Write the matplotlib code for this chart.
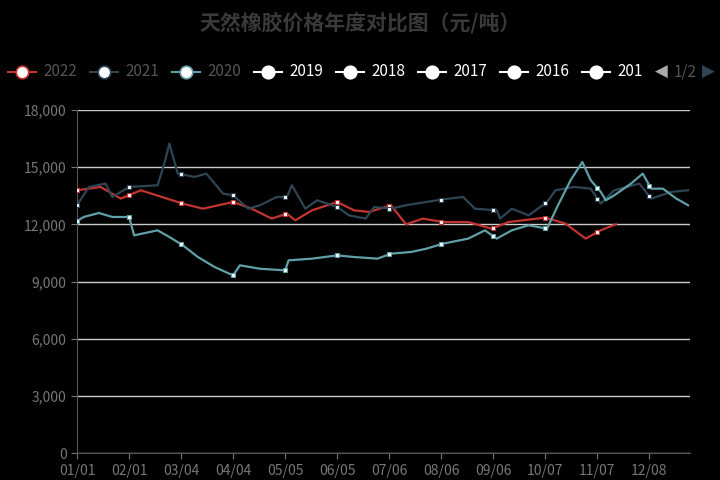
import matplotlib
matplotlib.use("Agg")
import matplotlib.pyplot as plt
from matplotlib.lines import Line2D
import numpy as np

plt.rcParams['font.family'] = ['Noto Sans CJK SC', 'DejaVu Sans']

tick_days = [0, 31, 62, 93, 124, 155, 186, 217, 248, 279, 310, 341]
tick_labels = ["01/01", "02/01", "03/04", "04/04", "05/05", "06/05", "07/06", "08/06", "09/06", "10/07", "11/07", "12/08"]

d2022 = [0, 14, 26, 38, 63, 75, 93, 104, 116, 125, 130, 140, 155, 165, 174, 187, 196, 206, 218, 233, 247, 257, 279, 291, 303, 312, 321]
v2022 = [13785, 13960, 13350, 13785, 13085, 12820, 13170, 12820, 12300, 12560, 12210, 12735, 13170, 12735, 12650, 13000, 12000, 12300, 12120, 12120, 11770, 12120, 12350, 12035, 11250, 11690, 12000]

d2021 = [0, 7, 17, 21, 31, 48, 52, 55, 60, 70, 77, 87, 93, 102, 109, 119, 125, 128, 136, 143, 155, 162, 172, 177, 187, 196, 208, 218, 230, 237, 250, 252, 259, 269, 280, 285, 296, 306, 312, 320, 335, 342, 354, 364]
v2021 = [13000, 13960, 14135, 13435, 13960, 14050, 15185, 16235, 14660, 14485, 14660, 13610, 13520, 12820, 13000, 13435, 13435, 14050, 12820, 13260, 12910, 12470, 12300, 12910, 12820, 13000, 13170, 13310, 13435, 12820, 12735, 12300, 12820, 12470, 13170, 13785, 13960, 13870, 13085, 13785, 14135, 13350, 13700, 13785]

d2020 = [0, 4, 13, 21, 31, 34, 48, 55, 63, 72, 82, 93, 97, 109, 124, 126, 140, 155, 165, 179, 187, 199, 208, 218, 233, 243, 250, 259, 269, 280, 286, 294, 301, 306, 312, 315, 320, 330, 337, 342, 349, 357, 364]
v2020 = [12175, 12385, 12595, 12385, 12385, 11420, 11685, 11335, 10900, 10285, 9760, 9320, 9850, 9670, 9585, 10110, 10200, 10370, 10285, 10200, 10460, 10550, 10720, 10985, 11250, 11685, 11250, 11685, 11950, 11770, 12910, 14310, 15270, 14310, 13700, 13260, 13520, 14135, 14660, 13870, 13870, 13350, 13000]

series = [("2022", d2022, v2022, "#c23531"), ("2021", d2021, v2021, "#2f4554"), ("2020", d2020, v2020, "#61a0a8")]

fig = plt.figure(figsize=(7.2, 4.8), dpi=100, facecolor="black")
ax = fig.add_axes([0.107, 0.056, 0.851, 0.715], facecolor="black")

for name, d, v, c in series:
    ax.plot(d, v, color=c, lw=1.6, zorder=3)
    md = [t for t in tick_days if d[0] <= t <= d[-1]]
    ax.plot(md, np.interp(md, d, v), ls="none", marker="s", ms=3.5, mfc="white", mec=c, mew=0.8, zorder=4)

ax.set_xlim(0, 365)
ax.set_ylim(0, 18000)
ax.set_yticks(range(0, 18001, 3000))
ax.set_yticklabels([f"{v:,}" for v in range(0, 18001, 3000)])
ax.set_xticks(tick_days)
ax.set_xticklabels(tick_labels)
ax.grid(axis="y", color="#cccccc", lw=1)
ax.tick_params(colors="#777777", labelsize=10, length=4)
ax.tick_params(axis="x", direction="out")
for s in ["top", "right"]:
    ax.spines[s].set_visible(False)
ax.spines["left"].set_color("#555555")
ax.spines["bottom"].set_color("#555555")

fig.text(0.5, 0.953, "天然橡胶价格年度对比图（元/吨）", ha="center", va="center", fontsize=15, color="#3a3a3a", fontweight="bold")

legend = [("2022", "#c23531", "#555555"), ("2021", "#2f4554", "#555555"), ("2020", "#61a0a8", "#555555"),
          ("2019", "white", "white"), ("2018", "white", "white"), ("2017", "white", "white"),
          ("2016", "white", "white"), ("201", "white", "white")]
y = 1 - 72 / 480
for i, (lab, c, tc) in enumerate(legend):
    x = 22 + i * 82
    fig.add_artist(Line2D([(x - 14) / 720, (x + 14) / 720], [y, y], color=c, lw=1.5, transform=fig.transFigure))
    fig.add_artist(Line2D([x / 720], [y], marker="o", ms=9, mfc="white", mec=c, mew=1.2, transform=fig.transFigure))
    fig.text((x + 21) / 720, y, lab, ha="left", va="center", fontsize=11, color=tc)
fig.text(661 / 720, y, "◀", ha="center", va="center", fontsize=12, color="#aaaaaa", family=["DejaVu Sans"])
fig.text(685 / 720, y, "1/2", ha="center", va="center", fontsize=11, color="#555555")
fig.text(708 / 720, y, "▶", ha="center", va="center", fontsize=12, color="#2f4554", family=["DejaVu Sans"])

fig.savefig("out.png", dpi=100, facecolor="black")
